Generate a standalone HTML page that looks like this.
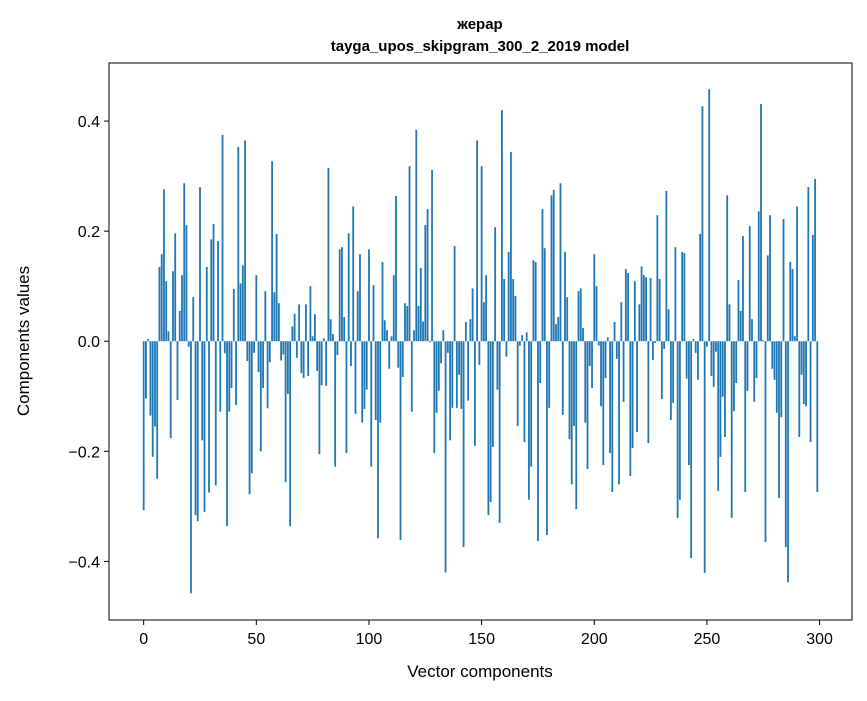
<!DOCTYPE html>
<html><head><meta charset="utf-8"><style>
body{margin:0;background:#fff;font-family:"Liberation Sans","DejaVu Sans",sans-serif}
svg text{font-family:"Liberation Sans","DejaVu Sans",sans-serif;fill:#000}
</style></head><body>
<svg id="chart" width="867" height="696" viewBox="0 0 867 696" xmlns="http://www.w3.org/2000/svg">
<rect width="867" height="696" fill="#fff"/>
<text x="480" y="29" text-anchor="middle" font-size="15" font-weight="bold">жерар</text>
<text x="480" y="51" text-anchor="middle" font-size="15" font-weight="bold">tayga_upos_skipgram_300_2_2019 model</text>
<g id="bars"></g>
<g id="axes"></g>
<text x="480" y="677" text-anchor="middle" font-size="17">Vector components</text>
<text transform="translate(29,341) rotate(-90)" text-anchor="middle" font-size="17">Components values</text>
</svg>
<script>
const values = [
-0.307,-0.104,0.004,-0.135,-0.21,-0.155,-0.25,0.135,0.158,0.276,
0.109,0.018,-0.176,0.127,0.196,-0.107,0.055,0.12,0.287,0.211,
-0.01,-0.458,0.08,-0.316,-0.327,0.28,-0.18,-0.31,0.135,-0.275,
0.185,0.213,-0.262,0.182,-0.128,0.375,-0.022,-0.336,-0.128,-0.085,
0.095,-0.116,0.353,0.105,0.138,0.365,-0.036,-0.278,-0.24,-0.021,
0.12,-0.056,-0.2,-0.085,0.091,-0.122,-0.038,0.327,0.089,0.195,
0.069,-0.035,-0.024,-0.256,-0.096,-0.336,0.027,0.05,-0.03,0.067,
-0.058,-0.067,0.067,-0.063,0.1,0.009,0.049,-0.054,-0.205,-0.08,
0.005,-0.081,0.315,0.04,0.013,-0.228,-0.025,0.167,0.171,0.044,
-0.203,0.196,-0.045,0.245,-0.132,0.091,0.158,-0.148,-0.123,-0.088,
0.167,-0.228,0.102,-0.143,-0.358,-0.148,0.144,0.038,0.02,-0.05,
0.009,0.12,0.264,-0.048,-0.361,-0.065,0.069,0.064,0.318,-0.128,
0.02,0.384,0.064,0.133,0.036,0.211,0.24,-0.002,0.311,-0.203,
-0.13,-0.09,-0.04,0.02,-0.42,-0.021,-0.18,-0.121,0.173,-0.121,
-0.061,-0.123,-0.374,0.035,-0.108,0.04,0.096,-0.19,0.365,-0.043,
0.318,0.071,0.12,-0.316,-0.292,-0.192,0.207,-0.088,-0.33,0.42,
0.113,-0.028,0.162,0.344,0.113,0.082,-0.154,-0.008,0.011,-0.183,
0.016,-0.288,-0.228,0.147,0.144,-0.363,-0.076,0.24,0.169,-0.352,
-0.121,0.265,0.275,0.031,0.044,0.287,-0.134,0.162,0.08,-0.178,
-0.26,-0.154,-0.305,0.091,0.096,0.024,-0.148,-0.232,-0.045,-0.085,
0.158,0.1,-0.008,-0.118,-0.225,-0.067,0.007,-0.203,-0.274,0.035,
-0.032,-0.26,0.071,-0.11,0.131,0.124,-0.245,-0.194,0.109,-0.165,
0.067,0.136,0.12,0.116,-0.185,0.115,-0.034,-0.003,0.229,0.113,
-0.105,-0.014,0.273,0.058,-0.143,-0.112,0.171,-0.321,-0.288,0.162,
0.16,-0.068,-0.225,-0.394,0.004,-0.021,-0.07,0.195,0.427,-0.421,
-0.01,0.458,-0.063,-0.083,-0.019,-0.272,-0.21,-0.101,-0.174,0.265,
0.067,-0.321,-0.127,-0.076,0.111,0.055,0.191,-0.274,-0.09,0.209,
0.04,-0.11,-0.067,0.236,0.431,0.002,-0.365,0.156,0.229,-0.05,
-0.07,-0.13,-0.285,-0.138,0.222,-0.374,-0.438,0.144,0.131,0.009,
0.245,-0.174,-0.061,-0.114,-0.118,0.28,-0.183,0.193,0.295,-0.274
];
const xTicks = [0,50,100,150,200,250,300];
const yTicks = [-0.4,-0.2,0.0,0.2,0.4];
const yTickLabels = ["−0.4","−0.2","0.0","0.2","0.4"];

const NS="http://www.w3.org/2000/svg";
const L=109,R=852,T=63,B=620;
const xMin=-15.39,xMax=314.39,yMin=-0.5065,yMax=0.5055;
function xs(v){return L+(v-xMin)/(xMax-xMin)*(R-L);}
function ys(v){return T+(yMax-v)/(yMax-yMin)*(B-T);}
const bars=document.getElementById('bars');
values.forEach((v,i)=>{
  const r=document.createElementNS(NS,'rect');
  const x0=xs(i-0.4),x1=xs(i+0.4);
  r.setAttribute('x',x0);r.setAttribute('width',x1-x0);
  r.setAttribute('y',Math.min(ys(v),ys(0)));
  r.setAttribute('height',Math.max(Math.abs(ys(v)-ys(0)),0.3));
  r.setAttribute('fill','#1f77b4');
  
  
  bars.appendChild(r);
});
const ax=document.getElementById('axes');
function el(tag,attrs,txt){const e=document.createElementNS(NS,tag);for(const k in attrs)e.setAttribute(k,attrs[k]);if(txt!==undefined)e.textContent=txt;ax.appendChild(e);return e;}
const frame=el('rect',{x:L,y:T,width:R-L,height:B-T,fill:'none',stroke:'#000','stroke-width':1});


xTicks.forEach(t=>{
  const x=xs(t);
  const tk=el('line',{x1:x,x2:x,y1:B,y2:B+5,stroke:'#000'});
  
  
  const lb=el('text',{x:x,y:B+24,'text-anchor':'middle','font-size':16},String(t));
  
  
});
yTicks.forEach((t,i)=>{
  const y=ys(t);
  const tk=el('line',{x1:L-5,x2:L,y1:y,y2:y,stroke:'#000'});
  
  
  const lb=el('text',{x:L-9,y:y+6,'text-anchor':'end','font-size':16},yTickLabels[i]);
  
  
});
</script>
</body></html>
